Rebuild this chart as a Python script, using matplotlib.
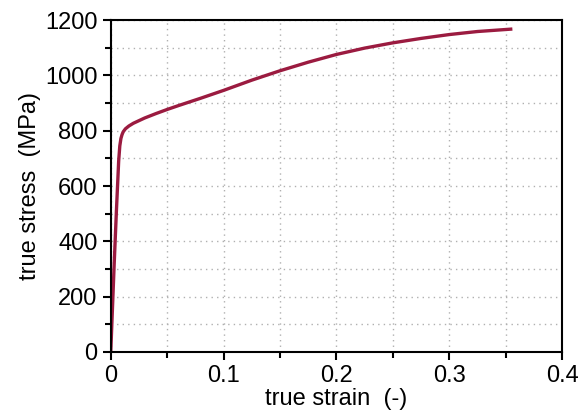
import matplotlib.pyplot as plt
from matplotlib.ticker import MultipleLocator, FormatStrFormatter

plt.rcParams['font.family'] = ['Liberation Sans', 'DejaVu Sans']

strain = [0, 0.001, 0.003, 0.005, 0.007, 0.008, 0.009, 0.010, 0.011, 0.013,
          0.016, 0.02, 0.03, 0.04, 0.05, 0.06, 0.08, 0.1, 0.125, 0.15, 0.175,
          0.2, 0.225, 0.25, 0.275, 0.3, 0.325, 0.356]
stress = [0, 105, 315, 510, 690, 745, 772, 786, 796, 807,
          817, 827, 846, 862, 877, 891, 918, 946, 983, 1017, 1048,
          1076, 1099, 1118, 1134, 1148, 1159, 1168]

fig = plt.figure(figsize=(5.83, 4.12), dpi=100)
ax = fig.add_axes([0.190, 0.146, 0.774, 0.805])

ax.plot(strain, stress, color='#9b1b40', lw=2.4, solid_capstyle='butt',
        solid_joinstyle='round')

ax.set_xlim(0, 0.4)
ax.set_ylim(0, 1200)
ax.xaxis.set_major_locator(MultipleLocator(0.1))
ax.xaxis.set_minor_locator(MultipleLocator(0.05))
ax.yaxis.set_major_locator(MultipleLocator(200))
ax.yaxis.set_minor_locator(MultipleLocator(100))
ax.xaxis.set_major_formatter(FormatStrFormatter('%g'))

ax.grid(which='both', color='#b0b0b0', linestyle=(0, (1, 3)), lw=1.0)
ax.set_axisbelow(True)

for s in ax.spines.values():
    s.set_linewidth(1.5)
ax.tick_params(which='major', direction='out', length=6, width=1.5,
               labelsize=17, top=False, right=False)
ax.tick_params(which='minor', direction='out', length=4, width=1.5,
               top=False, right=False)

ax.set_xlabel('true strain  (-)', fontsize=17, labelpad=1)
ax.set_ylabel('true stress  (MPa)', fontsize=17, labelpad=3)

fig.savefig('out.png', dpi=100)
